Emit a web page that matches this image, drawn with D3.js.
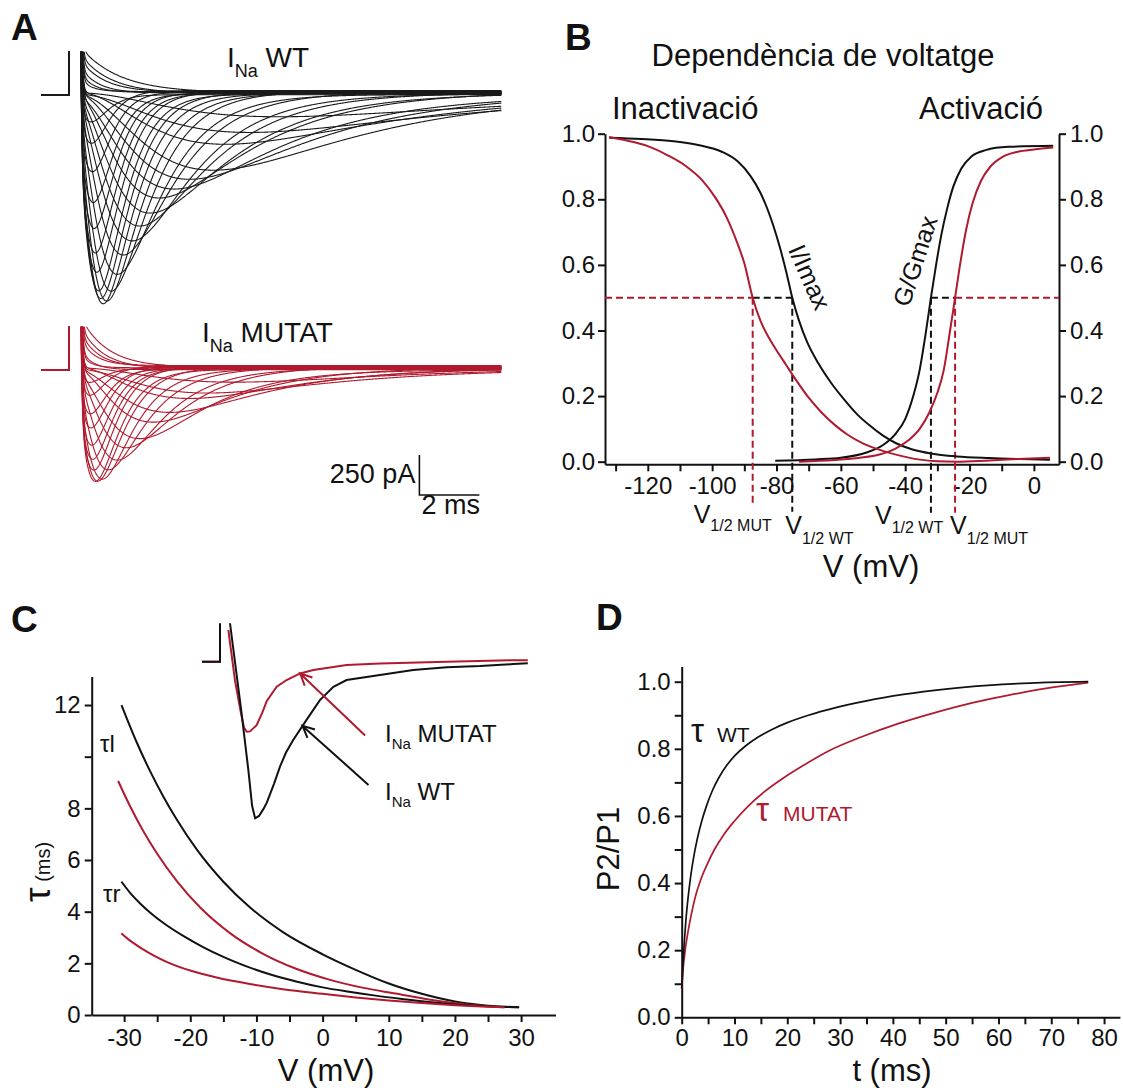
<!DOCTYPE html>
<html>
<head>
<meta charset="utf-8">
<title>INa WT vs MUTAT</title>
<script src="https://cdn.jsdelivr.net/npm/d3@7"></script>
<style>
  body { margin: 0; background: #fff; }
  text { font-family: "Liberation Sans", Arial, sans-serif; fill: #111; }
</style>
</head>
<body>
<svg id="fig" width="1123" height="1088"></svg>
<script>
const RED = "#b01a2e";
const INK = "#111";

// ---------- A: current families (peak time ms, peak amplitude pA, inactivation tau ms)
const wtPeakTime = [7.0, 6.0, 5.2, 4.8, 4.0, 3.5, 3.0, 2.7, 2.35, 2.1, 1.8, 1.6, 1.4, 1.25, 1.13, 1.05, 0.98, 0.92, 0.87, 0.83, 0.8, 0.77, 0.74, 0.72];
const wtPeakAmp = [150, 240, 330, 480, 545, 590, 670, 750, 835, 920, 1020, 1125, 1250, 1300, 1315, 1290, 1230, 1130, 1000, 850, 680, 500, 330, 170];
const wtTauH = [8, 7, 6, 4.8, 4.1, 3.5, 3.0, 2.6, 2.2, 1.9, 1.6, 1.35, 1.15, 1.0, 0.88, 0.8, 0.72, 0.66, 0.6, 0.55, 0.5, 0.46, 0.42, 0.38];
const wtOutAmp = [300, 260, 220, 180, 140, 100];
const wtOutTau = [1.3, 1.0, 0.8, 0.6, 0.45, 0.35];

const mutPeakTime = [5.5, 4.6, 4.0, 3.35, 2.8, 2.35, 1.9, 1.6, 1.3, 1.1, 0.95, 0.87, 0.82, 0.78, 0.75, 0.72, 0.7, 0.68, 0.66];
const mutPeakAmp = [90, 150, 200, 275, 344, 431, 512, 575, 640, 690, 715, 700, 650, 570, 480, 380, 280, 180, 90];
const mutTauH = [4.5, 3.8, 3.3, 2.8, 2.4, 2.0, 1.65, 1.4, 1.15, 0.95, 0.8, 0.7, 0.62, 0.56, 0.5, 0.46, 0.42, 0.38, 0.35];
const mutOutAmp = [340, 290, 240, 190, 150, 110];
const mutOutTau = [0.9, 0.75, 0.6, 0.5, 0.4, 0.32];

// holding current during the step, pA (spread of the baseline band)
const stepLeak = [14, 6, 22, 10, 18, 2, 26, 12, 16, 8, 20, 4, 24, 12, 10, 18, 6, 22, 12, 16, 8, 20, 28, 2, 14, 10, 18, 12, 16, 22];
const scaleBarPa = 250, scaleBarMs = 2;

// ---------- B: voltage dependence [mV, fraction]
const inactWT = [[-132,0.988],[-122,0.984],[-112,0.977],[-104,0.965],[-97,0.945],[-92,0.915],[-88,0.87],[-85,0.82],[-83,0.775],[-81,0.72],[-79,0.655],[-77,0.58],[-75.1,0.5],[-73,0.43],[-70.5,0.365],[-67,0.3],[-63,0.24],[-59,0.19],[-55,0.145],[-51,0.11],[-47,0.08],[-43,0.057],[-38,0.038],[-32,0.025],[-24,0.016],[-14,0.011],[-4,0.008],[5,0.006]];
const inactMUT = [[-132,0.99],[-126,0.978],[-120,0.962],[-114,0.935],[-108,0.9],[-103,0.857],[-99,0.805],[-95.5,0.745],[-92.5,0.675],[-90,0.605],[-87.4,0.5],[-85,0.43],[-82.5,0.38],[-80,0.34],[-77,0.295],[-74,0.25],[-70,0.195],[-66,0.15],[-62,0.113],[-58,0.083],[-53,0.055],[-47,0.033],[-41,0.017],[-36,0.007],[-30,0.001],[-24,0.0],[-15,0.003],[-5,0.008],[5,0.012]];
const actWT = [[-80.4,0.003],[-68,0.007],[-60,0.012],[-52,0.028],[-47,0.05],[-43,0.085],[-40,0.13],[-37.5,0.2],[-35.5,0.28],[-33.8,0.38],[-32,0.5],[-30.4,0.6],[-28.8,0.69],[-27,0.77],[-25,0.84],[-22.5,0.895],[-19.5,0.93],[-15,0.95],[-8,0.96],[6,0.963]];
const actMUT = [[-73,0.0],[-62,0.005],[-54,0.012],[-48,0.022],[-43,0.04],[-39,0.065],[-35.5,0.1],[-32.5,0.15],[-30,0.21],[-28,0.28],[-26.2,0.39],[-24.5,0.5],[-22.8,0.61],[-21,0.71],[-19,0.79],[-16.5,0.855],[-13.5,0.9],[-10,0.928],[-5,0.945],[0,0.952],[6,0.958]];
const vHalfWT = [-75.1, -32];   // inactivation, activation
const vHalfMUT = [-87.4, -24.5];
const bTicks = [-130, -120, -110, -100, -90, -80, -70, -60, -50, -40, -30, -20, -10, 0];
const fracTicks = [0, 0.2, 0.4, 0.6, 0.8, 1.0];

// ---------- C: time constants [mV, ms]
const tauInactWT = [[-30.4,12.0],[-28,10.5],[-26,9.4],[-24,8.42],[-22,7.55],[-19,6.4],[-15,5.16],[-11,4.17],[-6,3.21],[0,2.35],[5,1.75],[10,1.22],[15,0.82],[20,0.52],[25,0.36],[29.7,0.3]];
const tauInactMUT = [[-30.9,9.06],[-29,8.03],[-27,7.07],[-25,6.24],[-22,5.17],[-18.5,4.16],[-14,3.17],[-9,2.37],[-4,1.79],[1,1.37],[6,1.06],[11,0.83],[16,0.6],[21,0.43],[24.5,0.35],[27.5,0.3]];
const tauRecWT = [[-30.4,5.16],[-29,4.7],[-27.5,4.3],[-26,3.95],[-24,3.55],[-21,3.05],[-18,2.62],[-15,2.25],[-12,1.93],[-8,1.58],[-4,1.3],[0,1.07],[4,0.9],[8,0.75],[12,0.62],[16,0.5],[20,0.41],[24,0.35],[29.7,0.3]];
const tauRecMUT = [[-30.4,3.16],[-29,2.86],[-27.5,2.6],[-25.5,2.3],[-23.5,2.05],[-20,1.72],[-16,1.45],[-11,1.2],[-6,1.0],[0,0.82],[5,0.68],[10,0.56],[15,0.46],[20,0.38],[24,0.33],[27.5,0.3]];
const cTicksY = [0, 2, 4, 6, 8, 10, 12];
const cTicksX = [-30, -25, -20, -15, -10, -5, 0, 5, 10, 15, 20, 25, 30];
// inset traces [ms, normalised current]
const insetWT = [[-0.6,0],[0,0],[0,0.6],[0.33,0.6],[0.33,0.25],[0.7,-0.3],[0.95,-0.7],[1.07,-0.92],[1.17,-1.0],[1.3,-0.985],[1.45,-0.94],[1.56,-0.9],[1.8,-0.78],[2.0,-0.67],[2.2,-0.58],[2.44,-0.5],[2.89,-0.37],[3.33,-0.245],[3.78,-0.16],[4.22,-0.117],[5.33,-0.085],[6.44,-0.053],[7.56,-0.036],[8.67,-0.028],[9.78,-0.015],[10.26,-0.01]];
const insetMUT = [[-0.6,0],[0,0],[0,0.6],[0.28,0.6],[0.28,0.2],[0.5,-0.12],[0.7,-0.33],[0.8,-0.42],[0.89,-0.447],[1.0,-0.445],[1.22,-0.405],[1.4,-0.33],[1.56,-0.25],[1.89,-0.16],[2.22,-0.117],[2.67,-0.075],[3.11,-0.053],[4.22,-0.021],[5.33,-0.011],[7.56,0.0],[9.78,0.01],[10.26,0.01]];

// ---------- D: recovery [ms, P2/P1]
const recWT = [[0,0.086],[0.25,0.16],[0.5,0.225],[0.8,0.29],[1.2,0.355],[1.7,0.42],[2.3,0.48],[3.0,0.535],[3.8,0.585],[4.7,0.63],[5.8,0.675],[7,0.713],[8.5,0.75],[10.2,0.782],[12.2,0.81],[14.5,0.835],[17,0.857],[20,0.878],[24,0.9],[29,0.922],[35,0.943],[42,0.962],[50,0.978],[58,0.989],[66,0.996],[77,1.0]];
const recMUT = [[0,0.086],[0.3,0.15],[0.7,0.205],[1.2,0.255],[1.8,0.305],[2.6,0.36],[3.6,0.41],[4.8,0.455],[6.2,0.5],[8,0.545],[10,0.585],[12.5,0.628],[15.5,0.67],[19,0.71],[23,0.75],[28,0.795],[34,0.835],[41,0.875],[48,0.908],[55,0.937],[62,0.96],[69,0.98],[77,0.997]];
const dTicksX = [0, 5, 10, 15, 20, 25, 30, 35, 40, 45, 50, 55, 60, 65, 70, 75, 80];
const dTicksY = [0, 0.1, 0.2, 0.3, 0.4, 0.5, 0.6, 0.7, 0.8, 0.9, 1.0];

const svg = d3.select("#fig");
const defs = svg.append("defs");

function styleAxis(g) {
  g.attr("font-family", null).attr("font-size", null);
  g.selectAll("path, line").attr("stroke", INK).attr("stroke-width", 2);
  g.selectAll("text").style("font-size", "24px").attr("fill", INK);
  return g;
}

// text with a subscript part
function subLabel(x, y, main, sub, size, subSize, drop, color, tail) {
  const t = svg.append("text").attr("x", x).attr("y", y).attr("fill", color || INK);
  t.append("tspan").text(main).style("font-size", size + "px");
  t.append("tspan").text(sub).attr("dy", drop).style("font-size", subSize + "px");
  if (tail) t.append("tspan").text(tail).attr("dy", -drop).style("font-size", size + "px");
  return t;
}

function panelLetter(x, y, s) {
  svg.append("text").attr("x", x).attr("y", y).text(s)
    .style("font-size", "37px").style("font-weight", "bold");
}

// ================= PANEL A =================
const tA = d3.scaleLinear().domain([0, 14.4]).range([69.3, 501.3]);
const yWT = d3.scaleLinear().domain([0, -1250]).range([95, 295]);
const yMUT = d3.scaleLinear().domain([0, -1250]).range([370, 570]);
const tSamples = d3.range(0.3, 14.41, 0.02);

function naShape(tp, th) {
  let lo = 1e-3, hi = 50;
  for (let k = 0; k < 80; k++) {
    const tm = (lo + hi) / 2;
    const lhs = 3 / (tm * (Math.exp(tp / tm) - 1));
    if (lhs > 1 / th) hi = tm; else lo = tm;
  }
  const tm = (lo + hi) / 2;
  const g = t => Math.pow(1 - Math.exp(-t / tm), 3) * Math.exp(-t / th);
  const gmax = g(tp);
  return t => g(t) / gmax;
}

function tracePoints(fn, leak) {
  const pts = [[-0.92, 0], [0, 0], [0, 4000], [0.3, 4000]];
  tSamples.forEach(t => pts.push([t, fn(t) + leak + 6000 * Math.exp(-(t - 0.3) / 0.04)]));
  return pts;
}

function drawFamily(id, yS, clipTop, peakT, peakA, tauH, outA, outT, color) {
  defs.append("clipPath").attr("id", id).append("rect")
    .attr("x", 30).attr("y", clipTop).attr("width", 480).attr("height", 260);
  const line = d3.line().x(d => tA(d[0])).y(d => yS(d[1]));
  const g = svg.append("g").attr("clip-path", `url(#${id})`);
  const traces = [];
  outA.forEach((a, j) => traces.push(tracePoints(t => a * Math.exp(-(t - 0.3) / outT[j]), stepLeak[peakT.length + j])));
  peakT.forEach((tp, i) => {
    const f = naShape(tp, tauH[i]);
    traces.push(tracePoints(t => -peakA[i] * f(t), stepLeak[i]));
  });
  g.selectAll("path").data(traces).join("path")
    .attr("d", line).attr("fill", "none").attr("stroke", color)
    .attr("stroke-width", 1.1).attr("stroke-linejoin", "round");
}

drawFamily("clipWT", yWT, 51.7, wtPeakTime, wtPeakAmp, wtTauH, wtOutAmp, wtOutTau, "#1a1a1a");
drawFamily("clipMUT", yMUT, 326.7, mutPeakTime, mutPeakAmp, mutTauH, mutOutAmp, mutOutTau, RED);

panelLetter(11, 40, "A");
subLabel(227, 67, "I", "Na", 28, 18, 10, INK, " WT");
subLabel(202, 342, "I", "Na", 28, 18, 10, INK, " MUTAT");

// scale bar (corner placed in data units of the MUTAT family)
const sbT = 11.67, sbI = -781;
svg.append("path")
  .attr("d", `M${tA(sbT)},${yMUT(sbI + scaleBarPa)}V${yMUT(sbI)}H${tA(sbT + scaleBarMs)}`)
  .attr("fill", "none").attr("stroke", INK).attr("stroke-width", 1.6);
svg.append("text").attr("x", tA(sbT) - 4).attr("y", yMUT(sbI) - 12).attr("text-anchor", "end")
  .style("font-size", "27px").text(scaleBarPa + " pA");
svg.append("text").attr("x", tA(sbT) + 2).attr("y", yMUT(sbI) + 19)
  .style("font-size", "27px").text(scaleBarMs + " ms");

// ================= PANEL B =================
const xB = d3.scaleLinear().domain([-133.3, 7.8]).range([605, 1059]);
const yB = d3.scaleLinear().domain([-0.008, 1]).range([464.3, 133.7]);

styleAxis(svg.append("g").attr("transform", `translate(${xB.range()[0]},0)`)
  .call(d3.axisLeft(yB).tickValues(fracTicks).tickFormat(d3.format(".1f")).tickSize(7).tickSizeOuter(0)));
styleAxis(svg.append("g").attr("transform", `translate(${xB.range()[1]},0)`)
  .call(d3.axisRight(yB).tickValues(fracTicks).tickFormat(d3.format(".1f")).tickSize(7).tickPadding(4).tickSizeOuter(0)));
styleAxis(svg.append("g").attr("transform", `translate(0,${yB.range()[0]})`)
  .call(d3.axisBottom(xB).tickValues(bTicks).tickFormat(d => d % 20 === 0 ? String(d) : "").tickSize(7).tickPadding(6).tickSizeOuter(0)));

const lineB = d3.line().x(d => xB(d[0])).y(d => yB(d[1])).curve(d3.curveMonotoneX);

// half-activation guides
const dash = "7,4";
function hDash(v0, v1, color) {
  svg.append("line").attr("x1", xB(v0)).attr("x2", xB(v1)).attr("y1", yB(0.5)).attr("y2", yB(0.5))
    .attr("stroke", color).attr("stroke-width", 2).attr("stroke-dasharray", dash);
}
function vDash(v, drop, color) {
  svg.append("line").attr("x1", xB(v)).attr("x2", xB(v)).attr("y1", yB(0.5)).attr("y2", yB(0) + drop)
    .attr("stroke", color).attr("stroke-width", 2).attr("stroke-dasharray", dash);
}
hDash(xB.domain()[0], vHalfMUT[0], RED);
hDash(vHalfMUT[0], vHalfWT[0], INK);
hDash(vHalfWT[1], vHalfMUT[1], INK);
hDash(vHalfMUT[1], xB.domain()[1], RED);
vDash(vHalfMUT[0], 44, RED);
vDash(vHalfWT[0], 50, INK);
vDash(vHalfWT[1], 51, INK);
vDash(vHalfMUT[1], 51, RED);

[[inactWT, INK], [actWT, INK], [inactMUT, RED], [actMUT, RED]].forEach(([d, c]) => {
  svg.append("path").attr("d", lineB(d)).attr("fill", "none").attr("stroke", c).attr("stroke-width", 2);
});

panelLetter(565, 50, "B");
svg.append("text").attr("x", 823).attr("y", 66).attr("text-anchor", "middle")
  .style("font-size", "31px").text("Dependència de voltatge");
svg.append("text").attr("x", 612).attr("y", 119).style("font-size", "31px").text("Inactivació");
svg.append("text").attr("x", 919).attr("y", 119).style("font-size", "31px").text("Activació");
svg.append("text").attr("x", 871).attr("y", 577).attr("text-anchor", "middle")
  .style("font-size", "31px").text("V (mV)");
svg.append("text").attr("transform", `translate(${xB(-70.3)},${yB(0.56)}) rotate(66)`)
  .attr("text-anchor", "middle").attr("dominant-baseline", "middle")
  .style("font-size", "25px").text("I/Imax");
svg.append("text").attr("transform", `translate(${xB(-36.3)},${yB(0.61)}) rotate(-72)`)
  .attr("text-anchor", "middle").attr("dominant-baseline", "middle")
  .style("font-size", "25px").text("G/Gmax");

subLabel(xB(vHalfMUT[0]) - 59, 523, "V", "1/2 MUT", 25, 16, 8, RED);
subLabel(xB(vHalfWT[0]) - 7, 534, "V", "1/2 WT", 25, 16, 10, INK);
subLabel(xB(vHalfWT[1]) - 56, 524, "V", "1/2 WT", 25, 16, 9, INK);
subLabel(xB(vHalfMUT[1]) - 5, 534, "V", "1/2 MUT", 25, 16, 10, RED);

// ================= PANEL C =================
const xC = d3.scaleLinear().domain([-34.9, 35.2]).range([91.7, 555.5]);
const yC = d3.scaleLinear().domain([0, 13.1]).range([1015, 676.6]);

styleAxis(svg.append("g").attr("transform", `translate(${xC.range()[0]},0)`)
  .call(d3.axisLeft(yC).tickValues(cTicksY).tickFormat(d => d === 10 ? "" : d).tickSize(7).tickPadding(4).tickSizeOuter(0)));
styleAxis(svg.append("g").attr("transform", `translate(0,${yC.range()[0]})`)
  .call(d3.axisBottom(xC).tickValues(cTicksX).tickFormat(d => d % 10 === 0 ? String(d) : "").tickSize(7).tickPadding(7).tickSizeOuter(0)));

const lineC = d3.line().x(d => xC(d[0])).y(d => yC(d[1])).curve(d3.curveMonotoneX);
[[tauInactWT, INK], [tauInactMUT, RED], [tauRecWT, INK], [tauRecMUT, RED]].forEach(([d, c]) => {
  svg.append("path").attr("d", lineC(d)).attr("fill", "none").attr("stroke", c).attr("stroke-width", 2);
});

panelLetter(11, 632, "C");
const tl = svg.append("text").attr("x", 100).attr("y", 752).style("font-size", "24px");
tl.append("tspan").text("τ"); tl.append("tspan").text("l");
const tr = svg.append("text").attr("x", 103).attr("y", 902).style("font-size", "24px");
tr.append("tspan").text("τ"); tr.append("tspan").text("r");
const cy = svg.append("text").attr("transform", "translate(50,902) rotate(-90)");
cy.append("tspan").text("τ").style("font-size", "37px");
cy.append("tspan").text(" (ms)").style("font-size", "20px");
svg.append("text").attr("x", 326).attr("y", 1081).attr("text-anchor", "middle")
  .style("font-size", "31px").text("V (mV)");

// inset
const xI = d3.scaleLinear().domain([0, 1]).range([220, 250]);
const yI = d3.scaleLinear().domain([0, -1]).range([661.7, 818.3]);
defs.append("clipPath").attr("id", "clipInWT").append("rect").attr("x", 190).attr("y", 623.3).attr("width", 350).attr("height", 220);
defs.append("clipPath").attr("id", "clipInMUT").append("rect").attr("x", 190).attr("y", 630).attr("width", 350).attr("height", 220);
const lineI = d3.line().x(d => xI(d[0])).y(d => yI(d[1]));
svg.append("path").attr("d", lineI(insetMUT)).attr("clip-path", "url(#clipInMUT)")
  .attr("fill", "none").attr("stroke", RED).attr("stroke-width", 2);
svg.append("path").attr("d", lineI(insetWT)).attr("clip-path", "url(#clipInWT)")
  .attr("fill", "none").attr("stroke", INK).attr("stroke-width", 2);

function arrow(head, dx, dy, color) {
  const hx = xI(head[0]), hy = yI(head[1]);
  const ang = Math.atan2(dy, dx);
  const arm = 13, spread = 0.45;
  const p1 = [hx + arm * Math.cos(ang + spread), hy + arm * Math.sin(ang + spread)];
  const p2 = [hx + arm * Math.cos(ang - spread), hy + arm * Math.sin(ang - spread)];
  svg.append("path")
    .attr("d", `M${hx + dx},${hy + dy}L${hx},${hy}M${p1[0]},${p1[1]}L${hx},${hy}L${p2[0]},${p2[1]}`)
    .attr("fill", "none").attr("stroke", color).attr("stroke-width", 2);
}
arrow([2.67, -0.075], 65, 62, RED);
arrow([2.75, -0.41], 66, 59, INK);
subLabel(385, 742, "I", "Na", 24, 15, 7, INK, " MUTAT");
subLabel(385, 800, "I", "Na", 24, 15, 7, INK, " WT");

// ================= PANEL D =================
const xD = d3.scaleLinear().domain([0, 83]).range([681.7, 1119.9]);
const yD = d3.scaleLinear().domain([0, 1.045]).range([1017.3, 666.6]);

styleAxis(svg.append("g").attr("transform", `translate(${xD.range()[0]},0)`)
  .call(d3.axisLeft(yD).tickValues(dTicksY)
    .tickFormat(d => Math.round(d * 10) % 2 === 0 ? d3.format(".1f")(d) : "").tickSize(7).tickPadding(4).tickSizeOuter(0)));
styleAxis(svg.append("g").attr("transform", `translate(0,${yD.range()[0]})`)
  .call(d3.axisBottom(xD).tickValues(dTicksX).tickFormat(d => d % 10 === 0 ? String(d) : "").tickSize(7).tickPadding(5).tickSizeOuter(0)));

const lineD = d3.line().x(d => xD(d[0])).y(d => yD(d[1])).curve(d3.curveMonotoneX);
svg.append("path").attr("d", lineD(recMUT)).attr("fill", "none").attr("stroke", RED).attr("stroke-width", 1.7);
svg.append("path").attr("d", lineD(recWT)).attr("fill", "none").attr("stroke", INK).attr("stroke-width", 1.7);

panelLetter(596, 630, "D");
const tw = svg.append("text").attr("y", 742);
tw.append("tspan").attr("x", 691).text("τ").style("font-size", "33px");
tw.append("tspan").attr("x", 717).text("WT").style("font-size", "21px");
const tm = svg.append("text").attr("y", 821).attr("fill", RED);
tm.append("tspan").attr("x", 756).text("τ").style("font-size", "33px").attr("fill", RED);
tm.append("tspan").attr("x", 783).text("MUTAT").style("font-size", "21px").attr("fill", RED);
svg.append("text").attr("transform", "translate(619,849) rotate(-90)").attr("text-anchor", "middle")
  .style("font-size", "31px").text("P2/P1");
svg.append("text").attr("x", 892).attr("y", 1081).attr("text-anchor", "middle")
  .style("font-size", "31px").text("t (ms)");
</script>
</body>
</html>
